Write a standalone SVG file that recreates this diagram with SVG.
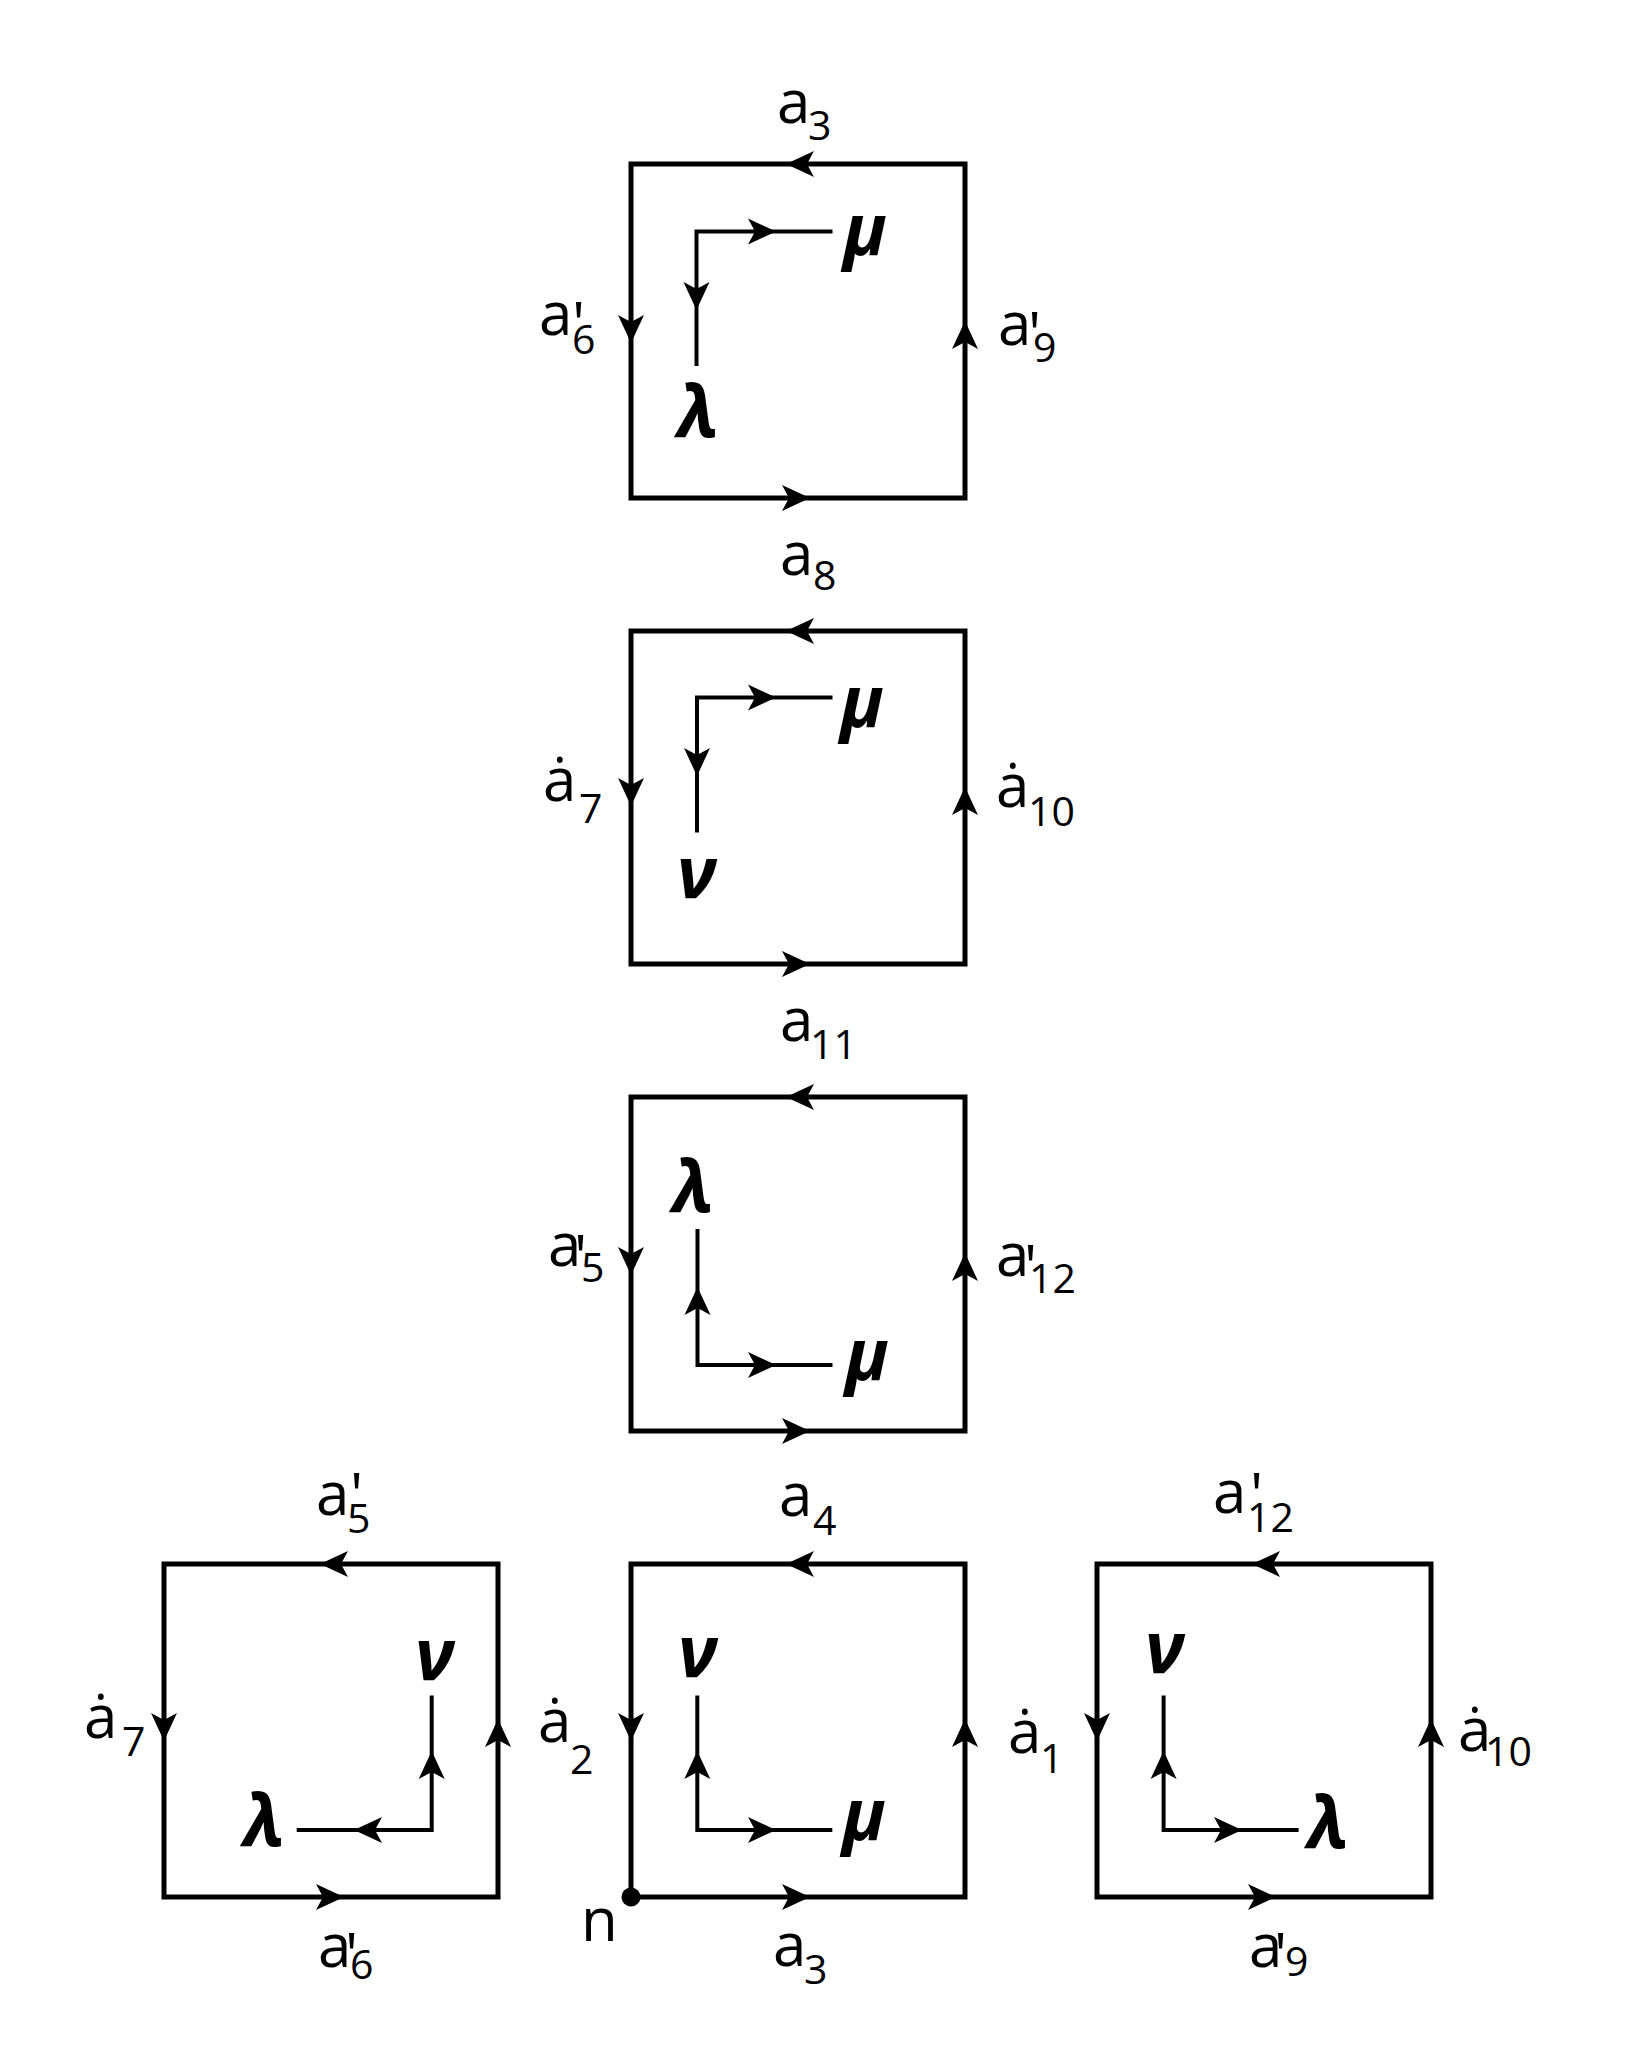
<svg xmlns="http://www.w3.org/2000/svg" xmlns:xlink="http://www.w3.org/1999/xlink" width="1628" height="2060" viewBox="0 0 1628 2060">
<style>
.sq{fill:none;stroke:#000;stroke-width:5}
.ln{fill:none;stroke:#000;stroke-width:4}
.t{font-family:"Open Sans","Liberation Sans",sans-serif;font-size:60px;font-weight:500;fill:#000}
.s{font-size:41px}
.g{font-family:"Open Sans","Liberation Sans",sans-serif;font-style:italic;font-weight:700;font-size:72px;fill:#000}
</style>
<defs>
<path id="ah" d="M0,0 L-28,-13 L-21,0 L-28,13 Z" fill="#000"/>
</defs>
<rect width="1628" height="2060" fill="#fff"/>

<g id="square1">
<rect class="sq" x="631" y="164" width="334" height="334"/>
<text class="t" x="777" y="123">a<tspan class="s" x="808" y="140">3</tspan></text>
<text class="t" x="539" y="335">a<tspan x="572" y="345">'</tspan><tspan class="s" x="572" y="354">6</tspan></text>
<text class="t" x="998" y="345">a<tspan x="1028" y="355">'</tspan><tspan class="s" x="1033" y="362">9</tspan></text>
<text class="g" x="843" y="255">μ</text>
<text class="g" x="677" y="437">λ</text>
</g>

<g id="square2">
<rect class="sq" x="631" y="631" width="334" height="333"/>
<text class="t" x="780" y="575">a<tspan class="s" x="813" y="590">8</tspan></text>
<text class="t" x="543" y="801">ȧ<tspan class="s" x="579" y="823">7</tspan></text>
<text class="t" x="996" y="807">ȧ<tspan class="s" x="1028" y="826">10</tspan></text>
<text class="g" x="840" y="727">μ</text>
<text class="g" x="677" y="898">ν</text>
</g>

<g id="square3">
<rect class="sq" x="631" y="1097" width="334" height="334"/>
<text class="t" x="780" y="1041">a<tspan class="s" x="810" y="1059">11</tspan></text>
<text class="t" x="548" y="1266">a<tspan x="574" y="1278">'</tspan><tspan class="s" x="581" y="1282">5</tspan></text>
<text class="t" x="996" y="1276">a<tspan x="1024" y="1288">'</tspan><tspan class="s" x="1029" y="1293">12</tspan></text>
<text class="g" x="672" y="1212">λ</text>
<text class="g" x="845" y="1380">μ</text>
</g>

<g id="square4">
<rect class="sq" x="164" y="1564" width="334" height="333"/>
<text class="t" x="316" y="1515">a<tspan x="350" y="1516">'</tspan><tspan class="s" x="347" y="1533">5</tspan></text>
<text class="t" x="84" y="1738">ȧ<tspan class="s" x="122" y="1756">7</tspan></text>
<text class="t" x="318" y="1967">a<tspan x="345" y="1976">'</tspan><tspan class="s" x="350" y="1979">6</tspan></text>
<text class="g" x="415" y="1680">ν</text>
<text class="g" x="243" y="1846">λ</text>
</g>

<g id="square5">
<rect class="sq" x="631" y="1564" width="334" height="333"/>
<circle cx="631" cy="1897" r="9.5" fill="#000"/>
<text class="t" x="779" y="1516">a<tspan class="s" x="813" y="1535">4</tspan></text>
<text class="t" x="538" y="1742">ȧ<tspan class="s" x="570" y="1774">2</tspan></text>
<text class="t" x="581" y="1941">n</text>
<text class="t" x="773" y="1966">a<tspan class="s" x="804" y="1984">3</tspan></text>
<text class="g" x="678" y="1677">ν</text>
<text class="g" x="842" y="1840">μ</text>
</g>

<g id="square6">
<rect class="sq" x="1097" y="1564" width="334" height="333"/>
<text class="t" x="1213" y="1513">a<tspan x="1250" y="1516">'</tspan><tspan class="s" x="1247" y="1532">12</tspan></text>
<text class="t" x="1008" y="1753">ȧ<tspan class="s" x="1040" y="1773">1</tspan></text>
<text class="t" x="1458" y="1751">ȧ<tspan class="s" x="1485" y="1766">10</tspan></text>
<text class="t" x="1249" y="1967">a<tspan x="1274" y="1976">'</tspan><tspan class="s" x="1285" y="1976">9</tspan></text>
<text class="g" x="1145" y="1673">ν</text>
<text class="g" x="1307" y="1848">λ</text>
</g>

<g id="connectors">
<path class="ln" d="M832.5,231.5 H696.5 V366"/>
<path class="ln" d="M832.5,697.5 H697 V832.5"/>
<path class="ln" d="M697.5,1229 V1365 H832.5"/>
<path class="ln" d="M431.7,1695.5 V1830 H296.7"/>
<path class="ln" d="M697.3,1695.5 V1830 H832.3"/>
<path class="ln" d="M1163.6,1695.5 V1830 H1298.6"/>
<use xlink:href="#ah" transform="translate(776 231.5)"/>
<use xlink:href="#ah" transform="translate(696.5 310) rotate(90)"/>
<use xlink:href="#ah" transform="translate(776 697.5)"/>
<use xlink:href="#ah" transform="translate(697 776) rotate(90)"/>
<use xlink:href="#ah" transform="translate(697.5 1287) rotate(-90)"/>
<use xlink:href="#ah" transform="translate(776 1365)"/>
<use xlink:href="#ah" transform="translate(431.7 1751) rotate(-90)"/>
<use xlink:href="#ah" transform="translate(354 1830) rotate(180)"/>
<use xlink:href="#ah" transform="translate(697.3 1751) rotate(-90)"/>
<use xlink:href="#ah" transform="translate(776 1830)"/>
<use xlink:href="#ah" transform="translate(1163.6 1751) rotate(-90)"/>
<use xlink:href="#ah" transform="translate(1242 1830)"/>
<use xlink:href="#ah" transform="translate(786 164) rotate(180)"/>
<use xlink:href="#ah" transform="translate(810 498)"/>
<use xlink:href="#ah" transform="translate(631 343) rotate(90)"/>
<use xlink:href="#ah" transform="translate(965 321) rotate(-90)"/>
<use xlink:href="#ah" transform="translate(786 631) rotate(180)"/>
<use xlink:href="#ah" transform="translate(810 964)"/>
<use xlink:href="#ah" transform="translate(631 806) rotate(90)"/>
<use xlink:href="#ah" transform="translate(965 787) rotate(-90)"/>
<use xlink:href="#ah" transform="translate(786 1097) rotate(180)"/>
<use xlink:href="#ah" transform="translate(810 1431)"/>
<use xlink:href="#ah" transform="translate(631 1275) rotate(90)"/>
<use xlink:href="#ah" transform="translate(965 1253) rotate(-90)"/>
<use xlink:href="#ah" transform="translate(320 1564) rotate(180)"/>
<use xlink:href="#ah" transform="translate(344 1897)"/>
<use xlink:href="#ah" transform="translate(164 1741) rotate(90)"/>
<use xlink:href="#ah" transform="translate(498 1719) rotate(-90)"/>
<use xlink:href="#ah" transform="translate(786 1564) rotate(180)"/>
<use xlink:href="#ah" transform="translate(810 1897)"/>
<use xlink:href="#ah" transform="translate(631 1741) rotate(90)"/>
<use xlink:href="#ah" transform="translate(965 1719) rotate(-90)"/>
<use xlink:href="#ah" transform="translate(1252 1564) rotate(180)"/>
<use xlink:href="#ah" transform="translate(1276 1897)"/>
<use xlink:href="#ah" transform="translate(1097 1741) rotate(90)"/>
<use xlink:href="#ah" transform="translate(1431 1719) rotate(-90)"/>
</g>
</svg>
